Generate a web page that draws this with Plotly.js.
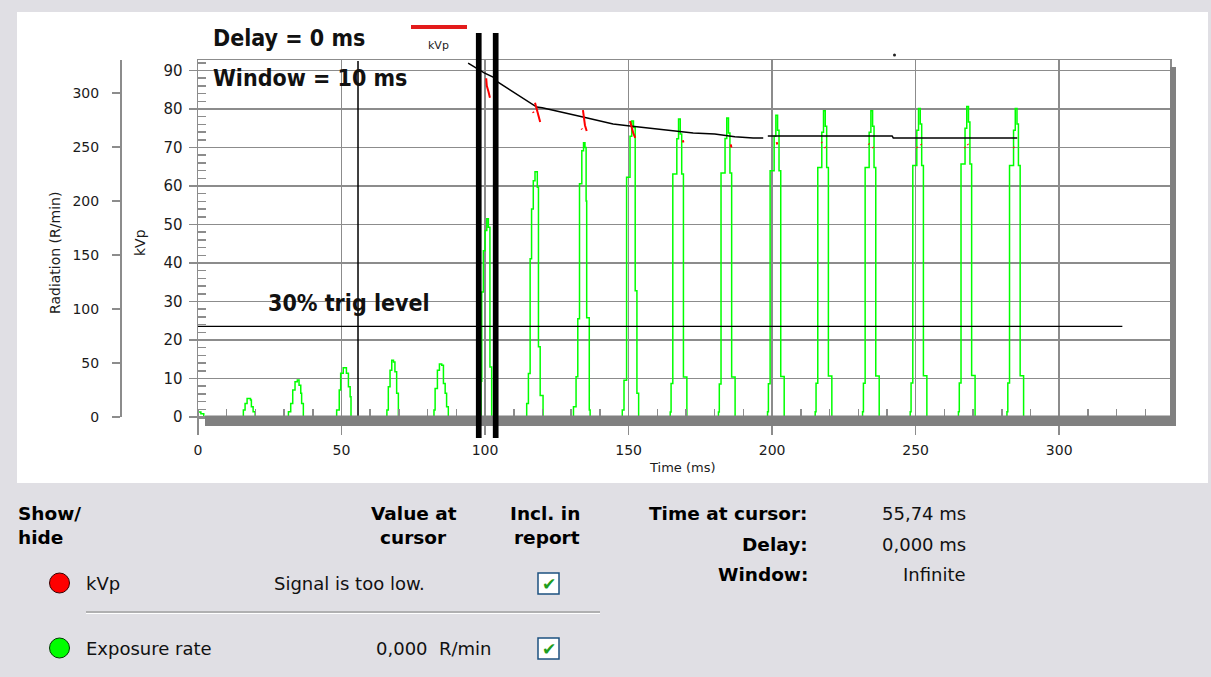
<!DOCTYPE html>
<html><head><meta charset="utf-8">
<script src="https://cdn.plot.ly/plotly-3.0.1.min.js"></script>
<style>html,body{margin:0;padding:0;background:#e0dfe4;} #chart{width:1211px;height:677px;}</style>
</head><body><div id="chart"></div>
<script>
// ---------- DATA ----------
// Exposure rate (R/min), sampled signal drawn as steps; time in ms
const expTime = [
  0, 1.0, 2.0,
  15.8, 16.4, 17.1, 18.3, 18.6, 19.2, 19.9,
  31.5, 32.3, 33.0, 33.8, 34.6, 35.2, 35.8, 36.1, 36.7,
  48.3, 49.2, 49.7, 50.6, 51.7, 52.4, 53.0, 53.3,
  65.8, 66.3, 66.9, 67.5, 68.1, 68.6, 69.2, 69.8,
  82.2, 82.6, 83.4, 84.1, 84.9, 85.5, 86.1, 86.6, 87.2,
  98.6, 98.85, 99.4, 100.0, 100.6, 101.15, 101.7, 102.3,
  114.5, 115.1, 115.7, 116.2, 116.8, 117.4, 118.2, 118.6, 119.2, 120.2,
  130.8, 131.7, 132.3, 132.9, 133.7, 134.3, 134.8, 135.2, 135.4, 136.3, 136.6,
  147.8, 148.4, 149.3, 150.5, 151.1, 151.7, 152.3, 152.9, 153.5,
  164.5, 164.8, 165.4, 166.8, 167.4, 168.0, 168.5, 169.1, 170.3,
  181.3, 181.6, 182.2, 183.6, 184.2, 184.8, 185.3, 185.9, 187.1,
  198.4, 198.7, 199.3, 200.7, 201.3, 201.9, 202.4, 203.0, 204.2,
  215.0, 215.3, 215.9, 217.3, 217.9, 218.5, 219.0, 219.6, 220.8,
  231.5, 231.8, 232.4, 233.8, 234.4, 235.0, 235.5, 236.1, 237.3,
  248.1, 248.4, 249.0, 250.4, 251.0, 251.6, 252.1, 252.7, 253.9,
  264.9, 265.2, 265.8, 267.2, 267.8, 268.4, 268.9, 269.5, 270.7,
  281.8, 282.1, 282.7, 284.1, 284.7, 285.3, 285.8, 286.4, 287.6
];
const expRate = [
  4.6, 3.0, 0,
  6.5, 12.6, 17.2, 15.7, 9.5, 4.9, 0,
  4.9, 12.6, 25, 32.6, 34.2, 29.5, 21.9, 12.6, 0,
  6.5, 25, 40.6, 45.5, 40.6, 28, 18.7, 0,
  6.5, 28, 43.4, 52.6, 51, 41.8, 21.9, 0,
  6.5, 26.5, 43.4, 49, 48, 31.1, 21.9, 9.5, 0,
  33, 115.7, 154, 172.7, 183.5, 175.7, 46.4, 0,
  12.6, 40.3, 146.5, 192.7, 218.8, 227, 212.7, 65, 20, 0,
  9.5, 37.2, 91, 216, 246.5, 254, 249.6, 200, 92, 6.5, 0,
  6.5, 34, 222, 260, 274, 268, 117, 22, 0,
  4.6, 31, 225, 257.6, 276, 262, 225, 37, 0,
  4.7, 30.5, 226, 258, 277, 263, 226, 37, 0,
  4.8, 30.7, 228, 260, 279.5, 265.5, 228, 37.5, 0,
  4.8, 31.2, 231, 263.7, 283.5, 269.3, 231, 38, 0,
  4.8, 31.2, 231, 263.7, 283.5, 269.3, 231, 38, 0,
  4.9, 31.4, 232.8, 265.6, 285.6, 271.3, 232.8, 38.3, 0,
  4.9, 31.6, 234.3, 267.4, 287.5, 273.1, 234.3, 38.5, 0,
  4.9, 31.4, 232.8, 265.6, 285.6, 271.3, 232.8, 38.3, 0
];
// kVp readings (red marks), null separates marks
const kvpTime = [
  100.4, 100.6, 101.2, 101.7, null,
  116.7, 116.9, null, 117.4, 117.9, 118.6, 119.2, null,
  133.6, 133.8, null, 134.1, 134.4, 134.8, 135.4, null,
  150.5, 151.0, 151.6, 152.3, null,
  168.9, 169.1, null,
  185.6, 185.8, null,
  201.6, 201.8, null,
  217.2, 217.4, null, 218.4, 218.6, null,
  233.6, 233.8, null, 235.0, 235.2, null,
  250.4, 250.6, null, 251.8, 252.0, null,
  267.0, 267.2, null, 268.1, 268.3, null,
  284.1, 284.3
];
const kvpValue = [
  88.0, 86.0, 84.5, 82.9, null,
  79.3, 79.0, null, 81.6, 80.0, 78.2, 76.6, null,
  74.9, 74.7, null, 79.7, 78.0, 75.8, 74.3, null,
  76.9, 75.3, 73.8, 72.5, null,
  71.9, 71.3, null,
  70.8, 70.0, null,
  71.4, 70.8, null,
  71.4, 71.2, null, 70.1, 69.9, null,
  71.0, 70.8, null, 70.1, 69.9, null,
  70.1, 69.9, null, 70.9, 70.7, null,
  70.1, 69.9, null, 70.9, 70.7, null,
  70.1, 69.9
];
// running kVp average (black curve)
const avgTime = [94.1, 99.7, 102.8, 104.5, 118.0, 119.9, 134.1, 144.6, 150.5, 160.9, 165.5, 172.5, 180.0, 187.0, 193.4, 196.9, null, 198.5, 241.8, 242.2, 285.4];
const avgKvp  = [91.9, 89.4, 88.3, 87.0, 80.5, 80.3, 77.9, 76.1, 75.6, 74.8, 74.5, 73.8, 73.5, 72.8, 72.5, 72.5, null, 73.0, 73.0, 72.5, 72.5];

const cursorTime = 55.74;          // ms
const windowLines = [97.8, 103.7]; // ms
const trigLevel = 84;              // R/min (30 % trig level)
const trigEnd = 322;               // ms

const delayText = "Delay = 0 ms";
const windowText = "Window = 10 ms";
const trigText = "30% trig level";

// ---------- LAYOUT HELPERS ----------
const W = 1211, H = 677, ML = 20, MR = 41, MT = 60, MB = 260;
const PW = W - ML - MR, PH = H - MT - MB;
const px = x => (x - ML) / PW;
const py = y => (H - MB - y) / PH;

const GRID = '#8c8c8c';
const TXT = '#1b1b1b';
const tickFont = {family: 'DejaVu Sans', size: 14, color: TXT};
const narrowBold = {family: 'DejaVu Sans Condensed, Liberation Sans Narrow, sans-serif', size: 23, color: '#111', weight: 'bold'};
const uiBold = {family: 'DejaVu Sans', size: 18.5, color: '#000', weight: 'bold'};
const uiReg = {family: 'DejaVu Sans', size: 18, color: '#111'};

function ann(x, y, text, font, xanchor, extra) {
  return Object.assign({xref: 'paper', yref: 'paper', x: px(x), y: py(y), text: text, font: font,
    showarrow: false, xanchor: xanchor || 'left', yanchor: 'middle'}, extra || {});
}
function prect(x0, y0, x1, y1, fill, line) {
  return {type: 'rect', xref: 'paper', yref: 'paper', x0: px(x0), x1: px(x1), y0: py(y1), y1: py(y0),
    fillcolor: fill, line: line || {width: 0}, layer: 'above'};
}

// ---------- TRACES ----------
const traces = [
  {x: expTime, y: expRate, yaxis: 'y', type: 'scatter', mode: 'lines', line: {color: '#00ff00', width: 1.5, shape: 'hv'}, name: 'Exposure rate'},
  {x: avgTime, y: avgKvp, yaxis: 'y2', type: 'scatter', mode: 'lines', line: {color: '#000', width: 1.5}, connectgaps: false, name: 'avg'},
  {x: kvpTime, y: kvpValue, yaxis: 'y2', type: 'scatter', mode: 'lines', line: {color: '#ff0000', width: 2}, connectgaps: false, name: 'kVp'}
];

// ---------- SHAPES ----------
const shapes = [
  Object.assign(prect(17, 12, 1208, 483, '#ffffff'), {layer: 'below'}),
  // cursor
  {type: 'line', xref: 'x', yref: 'paper', x0: cursorTime, x1: cursorTime, y0: 0, y1: py(61), line: {color: '#000', width: 1.5}},
  // trig level
  {type: 'line', xref: 'x', yref: 'y', x0: 0, x1: trigEnd, y0: trigLevel, y1: trigLevel, line: {color: '#000', width: 1.3}},
  // shadow frame
  prect(205, 415.6, 1176, 426, '#808080'),
  prect(1170, 67, 1176, 426, '#808080'),
  // legend swatch
  {type: 'line', xref: 'paper', yref: 'paper', x0: px(411), x1: px(467), y0: py(27), y1: py(27), line: {color: '#e31b1b', width: 4}},
  // stray dot
  {type: 'circle', xref: 'paper', yref: 'paper', x0: px(893), x1: px(896), y0: py(56.5), y1: py(53.5), fillcolor: '#222', line: {width: 0}},
  // bottom panel: dots
  {type: 'circle', xref: 'paper', yref: 'paper', x0: px(49.5), x1: px(69.5), y0: py(593), y1: py(573), fillcolor: '#ff0000', line: {color: '#3a0000', width: 1}},
  {type: 'circle', xref: 'paper', yref: 'paper', x0: px(49.5), x1: px(69.5), y0: py(658), y1: py(638), fillcolor: '#00ff00', line: {color: '#003a00', width: 1}},
  // separator
  {type: 'line', xref: 'paper', yref: 'paper', x0: px(86), x1: px(600), y0: py(612), y1: py(612), line: {color: '#a0a0a0', width: 1.5}},
  {type: 'line', xref: 'paper', yref: 'paper', x0: px(86), x1: px(600), y0: py(613.5), y1: py(613.5), line: {color: '#ffffff', width: 1}},
  // checkboxes
  prect(538, 573, 559, 594, '#ffffff', {color: '#1c5180', width: 1.5}),
  prect(538, 638, 559, 659, '#ffffff', {color: '#1c5180', width: 1.5})
];
windowLines.forEach(t => shapes.push({type: 'line', xref: 'x', yref: 'paper', x0: t, x1: t, y0: py(438), y1: py(33), line: {color: '#000', width: 5.7}}));

// ---------- ANNOTATIONS ----------
const checkFont = {family: 'DejaVu Sans', size: 17, color: '#1e9e1e', weight: 'bold'};
const annotations = [
  ann(211, 38, delayText, narrowBold),
  ann(211, 78, windowText, narrowBold),
  ann(266, 303, trigText, narrowBold),
  ann(438.5, 46, 'kVp', {family: 'DejaVu Sans', size: 11, color: '#222'}, 'center'),
  ann(55, 253, 'Radiation (R/min)', {family: 'DejaVu Sans', size: 14, color: TXT}, 'center', {textangle: -90}),
  ann(140, 243, 'kVp', {family: 'DejaVu Sans', size: 14, color: TXT}, 'center', {textangle: -90}),
  ann(682, 467, 'Time (ms)', {family: 'DejaVu Sans', size: 13, color: TXT}, 'center'),
  // bottom panel
  ann(16, 513, 'Show/', uiBold),
  ann(16, 537, 'hide', uiBold),
  ann(413.5, 513, 'Value at', uiBold, 'center'),
  ann(413.5, 537, 'cursor', uiBold, 'center'),
  ann(582, 513, 'Incl. in', uiBold, 'right'),
  ann(582, 537, 'report', uiBold, 'right'),
  ann(84, 583, 'kVp', uiReg),
  ann(427, 583, 'Signal is too low.', uiReg, 'right'),
  ann(84, 648, 'Exposure rate', uiReg),
  ann(494, 648, '0,000&nbsp;&nbsp;R/min', uiReg, 'right'),
  ann(548.5, 583.5, '✔', checkFont, 'center'),
  ann(548.5, 648.5, '✔', checkFont, 'center'),
  ann(810, 513, 'Time at cursor:', uiBold, 'right'),
  ann(810, 544, 'Delay:', uiBold, 'right'),
  ann(810, 574, 'Window:', uiBold, 'right'),
  ann(968, 513, '55,74 ms', uiReg, 'right'),
  ann(968, 544, '0,000 ms', uiReg, 'right'),
  ann(968, 574, 'Infinite', uiReg, 'right')
];

const layout = {
  width: W, height: H,
  margin: {l: ML, r: MR, t: MT, b: MB, pad: 0},
  paper_bgcolor: '#e0dfe4', plot_bgcolor: 'rgba(0,0,0,0)',
  showlegend: false,
  xaxis: {domain: [px(198), 1], range: [0, 338.6], tick0: 0, dtick: 50, ticks: 'outside', ticklen: 16, tickwidth: 1.5,
    tickcolor: GRID, showgrid: true, gridcolor: GRID, gridwidth: 1.5, showline: true, linecolor: GRID, linewidth: 1.5,
    mirror: true, zeroline: false, tickfont: tickFont, ticklabelstandoff: 4,
    minor: {dtick: 10, tick0: 0, ticks: 'inside', ticklen: 8, tickwidth: 1.5, tickcolor: GRID, showgrid: false}},
  // radiation axis (R/min), free-standing on the left
  yaxis: {anchor: 'free', position: px(120), side: 'left', range: [0, 330.6], tick0: 0, dtick: 50, ticks: 'outside',
    ticklen: 8, tickwidth: 1.5, tickcolor: GRID, showgrid: false, showline: true, linecolor: GRID, linewidth: 1.5,
    zeroline: false, tickfont: {family: 'DejaVu Sans', size: 14, color: TXT}, ticklabelstandoff: 10},
  // kVp axis on the plot edge, carries the grid
  yaxis2: {overlaying: 'y', anchor: 'x', side: 'left', range: [0, 92.73], tick0: 0, dtick: 10, ticks: 'outside',
    ticklen: 8, tickwidth: 1.5, tickcolor: GRID, showgrid: true, gridcolor: GRID, gridwidth: 1.5, showline: true,
    linecolor: GRID, linewidth: 1.5, mirror: true, zeroline: false, tickfont: {family: 'DejaVu Sans', size: 15, color: TXT},
    ticklabelstandoff: 3,
    minor: {dtick: 2, tick0: 0, ticks: 'inside', ticklen: 8, tickwidth: 1.5, tickcolor: GRID, showgrid: false}},
  shapes: shapes,
  annotations: annotations
};

Plotly.newPlot('chart', traces, layout, {displayModeBar: false, staticPlot: true});
</script>
</body></html>
